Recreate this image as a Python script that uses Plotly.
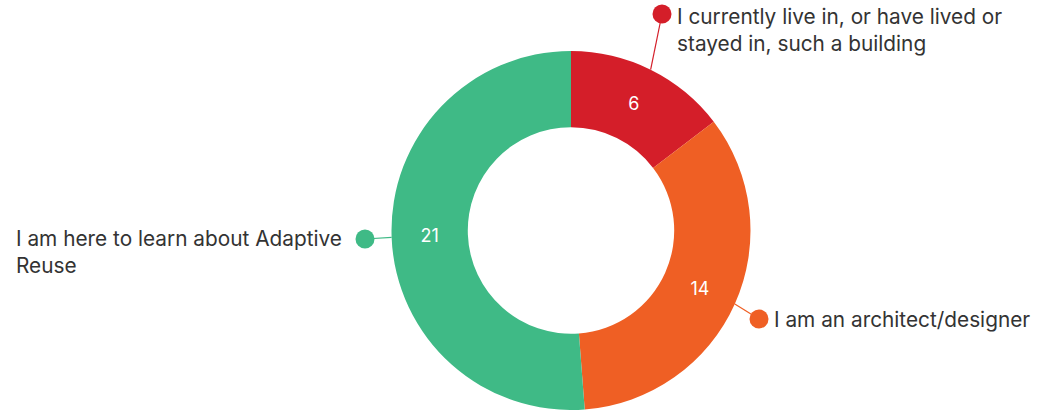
import math
import plotly.graph_objects as go

# ---- data ----
categories = [
    "I currently live in, or have lived or<br>stayed in, such a building",
    "I am an architect/designer",
    "I am here to learn about Adaptive<br>Reuse",
]
values = [6, 14, 21]
colors = ["#D41E29", "#EF5F24", "#3FBA86"]

W, H = 1043, 410
CX, CY, R = 571, 230.5, 179.5   # pie centre/radius in pixels (from top-left)
HOLE = 0.575

fig = go.Figure()
fig.add_trace(go.Pie(
    labels=categories, values=values, sort=False, direction="clockwise",
    rotation=0, hole=HOLE,
    marker=dict(colors=colors, line=dict(width=0)),
    textinfo="value", textposition="inside", insidetextorientation="horizontal",
    textfont=dict(color="white", size=18, family="Inter"),
    domain=dict(x=[(CX - R) / W, (CX + R) / W], y=[max(0, (H - CY - R) / H), (H - CY + R) / H]),
    showlegend=False, hoverinfo="label+value",
))

def px(x, y):
    return x / W, 1 - y / H

# label layout: dot position, text anchor (left x, centre y)
label_pos = [
    dict(dot=(662, 14), text=(675, 30)),
    dict(dot=(759, 319), text=(772, 319)),
    dict(dot=(365, 239), text=(14, 252)),
]

total = sum(values)
cum = 0
shapes, annotations = [], []
for v, c, lab, lp in zip(values, colors, categories, label_pos):
    mid = (cum + v / 2) / total * 2 * math.pi
    cum += v
    sx = CX + R * math.sin(mid)
    sy = CY - R * math.cos(mid)
    dx, dy = lp["dot"]
    x0, y0 = px(sx, sy)
    x1, y1 = px(dx, dy)
    shapes.append(dict(type="line", xref="paper", yref="paper", x0=x0, y0=y0, x1=x1, y1=y1,
                       line=dict(color=c, width=1.2)))
    shapes.append(dict(type="circle", xref="paper", yref="paper",
                       xsizemode="pixel", ysizemode="pixel", xanchor=x1, yanchor=y1,
                       x0=-9.5, x1=9.5, y0=-9.5, y1=9.5,
                       fillcolor=c, line=dict(width=0)))
    tx, ty = px(*lp["text"])
    annotations.append(dict(text=lab, x=tx, y=ty, xref="paper", yref="paper",
                            xanchor="left", yanchor="middle", align="left", showarrow=False,
                            font=dict(size=20.8, color="#333333", family="Inter")))

fig.update_layout(
    width=W, height=H, margin=dict(l=0, r=0, t=0, b=0),
    paper_bgcolor="white", plot_bgcolor="white",
    shapes=shapes, annotations=annotations,
)
fig.write_html("out.html")
